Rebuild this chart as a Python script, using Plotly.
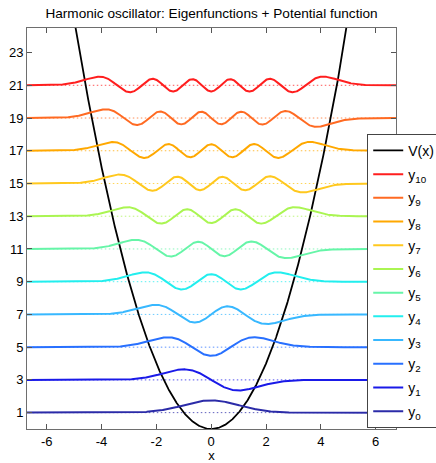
import numpy as np
import plotly.graph_objects as go
from numpy.polynomial.hermite import hermval
from math import factorial, pi, sqrt

# Quantum numbers, energy levels (E_n = 2n + 1) and line colours (jet-like)
quantum_numbers = [0, 1, 2, 3, 4, 5, 6, 7, 8, 9, 10]
energy_levels = [1, 3, 5, 7, 9, 11, 13, 15, 17, 19, 21]
line_colors = ["#2b2ba8", "#1a1ae8", "#2870ff", "#38b8ff", "#22eeee",
               "#66f5a8", "#aaf552", "#ffc81e", "#ffa800", "#ff6a22", "#ff1e1e"]
x_ticks = [-6, -4, -2, 0, 2, 4, 6]
y_ticks = [1, 3, 5, 7, 9, 11, 13, 15, 17, 19, 21, 23]

x = np.linspace(-6.8, 6.8, 1200)
FONT = "Liberation Sans, Arial"


def eigenfunction(n, xs):
    """Normalised harmonic oscillator eigenfunction (mirrored in x)."""
    coeffs = np.zeros(n + 1)
    coeffs[n] = 1.0
    norm = 1.0 / sqrt(2.0 ** n * factorial(n) * sqrt(pi))
    xm = -xs
    return norm * hermval(xm, coeffs) * np.exp(-xm ** 2 / 2.0)


fig = go.Figure()

# Dotted energy levels (drawn first, underneath)
for n, level, color in zip(quantum_numbers, energy_levels, line_colors):
    fig.add_trace(go.Scatter(x=[x[0], x[-1]], y=[level, level], mode="lines",
                             line=dict(color=color, width=1, dash="1.5px,2.5px"),
                             opacity=0.75, showlegend=False, hoverinfo="skip"))

# Potential V(x) = x^2
fig.add_trace(go.Scatter(x=x, y=x ** 2, mode="lines", name="V(x)",
                         legendgroup="V", line=dict(color="black", width=1.8)))

# Eigenfunctions shifted to their energy levels, highest first in the legend
for n, level, color in reversed(list(zip(quantum_numbers, energy_levels, line_colors))):
    fig.add_trace(go.Scatter(x=x, y=eigenfunction(n, x) + level, mode="lines",
                             name=f"y<sub>{n}</sub>", legendgroup=f"y{n}",
                             line=dict(color=color, width=2)))

axis_common = dict(showline=True, linecolor="#6e6e6e", linewidth=1, mirror="ticks",
                   ticks="inside", ticklen=5, tickcolor="#555555",
                   showgrid=False, zeroline=False,
                   tickfont=dict(family=FONT, size=13, color="black"))

fig.update_layout(
    width=436, height=463,
    margin=dict(l=27, r=40, t=28, b=34, autoexpand=False),
    paper_bgcolor="white", plot_bgcolor="white",
    title=dict(text="Harmonic oscillator: Eigenfunctions + Potential function",
               x=(27 + 396) / 2 / 436, xanchor="center", y=0.972, yanchor="middle",
               font=dict(family=FONT, size=13.6, color="black")),
    xaxis=dict(range=[-6.72, 6.74], tickvals=x_ticks, ticktext=[str(v) for v in x_ticks],
               title=dict(text="x", standoff=4, font=dict(family=FONT, size=13, color="black")),
               **axis_common),
    yaxis=dict(range=[0, 24.5], tickvals=y_ticks, ticktext=[str(v) for v in y_ticks],
               **axis_common),
    legend=dict(x=0.922, y=0.736, xanchor="left", yanchor="top",
                bgcolor="white", bordercolor="#444444", borderwidth=1,
                font=dict(family=FONT, size=14, color="black"),
                traceorder="grouped", tracegroupgap=2.5, itemwidth=30),
    showlegend=True,
)

fig.write_html("out.html")
